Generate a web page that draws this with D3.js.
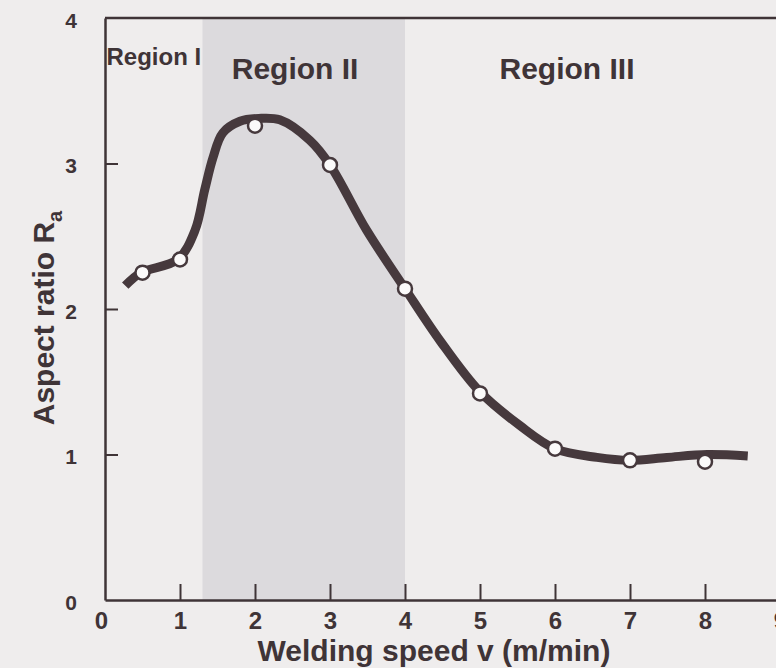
<!DOCTYPE html>
<html>
<head>
<meta charset="utf-8">
<script src="https://cdn.jsdelivr.net/npm/d3@7"></script>
<style>
  body { margin: 0; background: #efeded; }
  svg { display: block; font-family: 'Liberation Sans', Arial, sans-serif; }
</style>
</head>
<body>
<svg id="chart"></svg>
<script>
// Data
const speeds = [0.5, 1, 2, 3, 4, 5, 6, 7, 8]
const ratios = [2.25, 2.34, 3.26, 2.99, 2.14, 1.42, 1.04, 0.96, 0.95]

// fitted curve
const curveX = [0.27, 0.48, 0.97, 1.2, 1.33, 1.44, 1.57, 1.8, 2.05, 2.33, 2.73, 3.0, 3.49, 4.0, 4.47, 5.0, 5.53, 6.0, 6.56, 7.0, 7.49, 8.03, 8.57]
const curveY = [2.16, 2.25, 2.34, 2.54, 2.82, 3.04, 3.21, 3.29, 3.31, 3.30, 3.16, 2.99, 2.54, 2.14, 1.78, 1.43, 1.20, 1.04, 0.98, 0.96, 0.98, 1.00, 0.99]

const xTicks = [0, 1, 2, 3, 4, 5, 6, 7, 8, 9]
const yTicks = [0, 1, 2, 3, 4]
const regionII = [1.3, 4.0]
const regionLabels = [
  { text: 'Region I', x: 0.02, y: 65, size: 24 },
  { text: 'Region II', x: 1.69, y: 79, size: 30 },
  { text: 'Region III', x: 5.26, y: 79, size: 30 }
]

const W = 776, H = 668
const ink = '#3f3437'

const svg = d3.select('#chart').attr('width', W).attr('height', H)

const x = d3.scaleLinear().domain([0, 9]).range([105, 780])
const y = d3.scaleLinear().domain([0, 4]).range([600, 18])

// shaded region II
svg.append('rect')
  .attr('x', x(regionII[0]))
  .attr('y', y(4))
  .attr('width', x(regionII[1]) - x(regionII[0]))
  .attr('height', y(0) - y(4))
  .attr('fill', '#dcdadd')

// axes
const xAxis = d3.axisBottom(x).tickValues(xTicks).tickFormat(d3.format('d'))
  .tickSizeInner(-16).tickSizeOuter(0).tickPadding(12)
const yAxis = d3.axisLeft(y).tickValues(yTicks).tickFormat(d3.format('d'))
  .tickSizeInner(-13).tickSizeOuter(0).tickPadding(28)

const gx = svg.append('g').attr('transform', `translate(0, ${y(0)})`).call(xAxis)
const gy = svg.append('g').attr('transform', `translate(${x(0)}, 0)`).call(yAxis)

;[gx, gy].forEach(g => {
  g.select('.domain').attr('stroke', ink).attr('stroke-width', 2.5)
  g.selectAll('.tick line').attr('stroke', ink).attr('stroke-width', 2)
  g.selectAll('.tick text')
    .attr('fill', ink)
    .style('font-weight', 'bold')
})
gx.selectAll('.tick text').style('font-size', '24px')
gy.selectAll('.tick text').style('font-size', '21px').attr('dy', '0.45em')
gx.selectAll('.tick').filter(d => d === 0).select('line').remove()
gx.selectAll('.tick').filter(d => d === 0).select('text').attr('x', -4)
gy.selectAll('.tick').filter(d => d === 0 || d === 4).select('line').remove()

// top frame line
svg.append('line')
  .attr('x1', x(0)).attr('x2', x(9))
  .attr('y1', y(4)).attr('y2', y(4))
  .attr('stroke', ink).attr('stroke-width', 2.5)

// region labels
svg.selectAll('.region')
  .data(regionLabels)
  .enter()
  .append('text')
  .attr('class', 'region')
  .attr('x', d => x(d.x))
  .attr('y', d => d.y)
  .attr('fill', ink)
  .style('font-size', d => d.size + 'px')
  .style('font-weight', 'bold')
  .text(d => d.text)

// curve
const line = d3.line()
  .x(d => x(d[0]))
  .y(d => y(d[1]))
  .curve(d3.curveCatmullRom.alpha(0.5))

svg.append('path')
  .datum(d3.zip(curveX, curveY))
  .attr('d', line)
  .attr('fill', 'none')
  .attr('stroke', '#46393d')
  .attr('stroke-width', 9)
  .attr('stroke-linecap', 'butt')

// measured points
svg.selectAll('.pt')
  .data(d3.zip(speeds, ratios))
  .enter()
  .append('circle')
  .attr('class', 'pt')
  .attr('cx', d => x(d[0]))
  .attr('cy', d => y(d[1]))
  .attr('r', 7)
  .attr('fill', '#fbfafa')
  .attr('stroke', '#46393d')
  .attr('stroke-width', 2.5)

// axis titles
svg.append('text')
  .attr('x', 434)
  .attr('y', 661)
  .attr('text-anchor', 'middle')
  .attr('fill', ink)
  .style('font-size', '30px')
  .style('font-weight', 'bold')
  .text('Welding speed v (m/min)')

const yt = svg.append('text')
  .attr('transform', 'translate(54, 318) rotate(-90)')
  .attr('text-anchor', 'middle')
  .attr('fill', ink)
  .style('font-size', '30px')
  .style('font-weight', 'bold')
yt.append('tspan').text('Aspect ratio R')
yt.append('tspan').attr('dy', 8).style('font-size', '20px').text('a')
</script>
</body>
</html>
